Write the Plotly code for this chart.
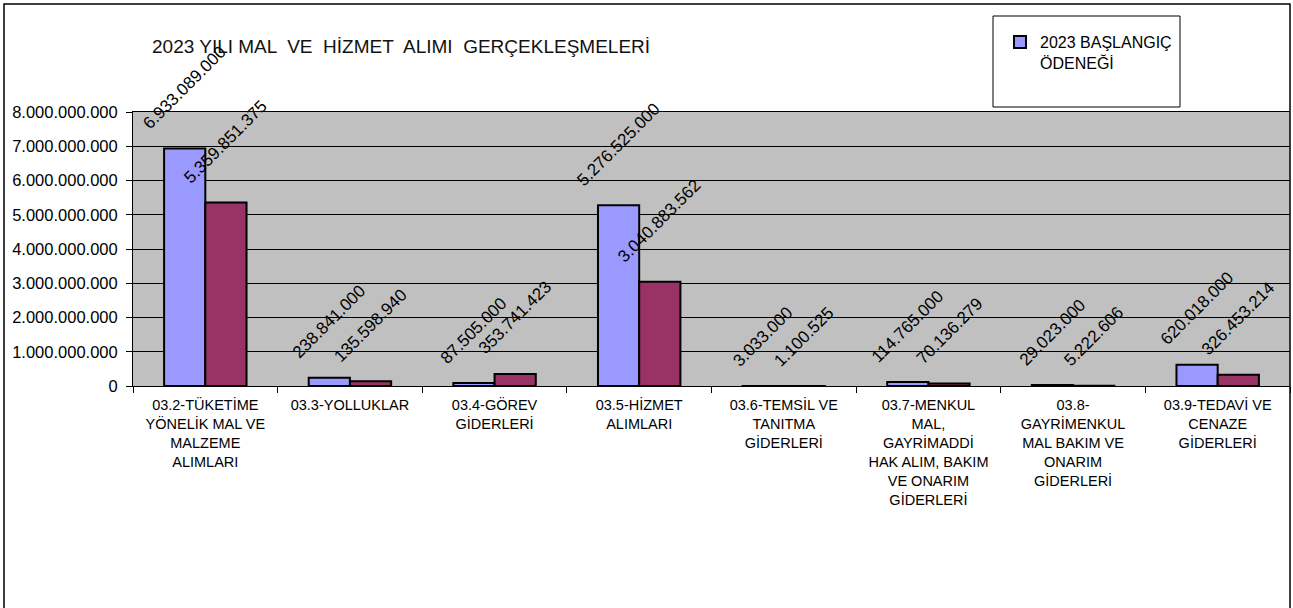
import plotly.graph_objects as go

categories = [
    "03.2-TÜKETİME YÖNELİK MAL VE MALZEME ALIMLARI",
    "03.3-YOLLUKLAR",
    "03.4-GÖREV GİDERLERİ",
    "03.5-HİZMET ALIMLARI",
    "03.6-TEMSİL VE TANITMA GİDERLERİ",
    "03.7-MENKUL MAL, GAYRİMADDİ HAK ALIM, BAKIM VE ONARIM GİDERLERİ",
    "03.8-GAYRİMENKUL MAL BAKIM VE ONARIM GİDERLERİ",
    "03.9-TEDAVİ VE CENAZE GİDERLERİ",
]
tick_labels = [
    "03.2-TÜKETİME<br>YÖNELİK MAL VE<br>MALZEME<br>ALIMLARI",
    "03.3-YOLLUKLAR",
    "03.4-GÖREV<br>GİDERLERİ",
    "03.5-HİZMET<br>ALIMLARI",
    "03.6-TEMSİL VE<br>TANITMA<br>GİDERLERİ",
    "03.7-MENKUL<br>MAL,<br>GAYRİMADDİ<br>HAK ALIM, BAKIM<br>VE ONARIM<br>GİDERLERİ",
    "03.8-<br>GAYRİMENKUL<br>MAL BAKIM VE<br>ONARIM<br>GİDERLERİ",
    "03.9-TEDAVİ VE<br>CENAZE<br>GİDERLERİ",
]
baslangic = [6933089000, 238841000, 87505000, 5276525000, 3033000, 114765000, 29023000, 620018000]
gerceklesme = [5359851375, 135598940, 353741423, 3040883562, 1100525, 70136279, 5222606, 326453214]
y_ticks = [0, 1e9, 2e9, 3e9, 4e9, 5e9, 6e9, 7e9, 8e9]

series_names = ["2023 BAŞLANGIÇ<br>ÖDENEĞİ", "2023 GERÇEKLEŞME"]
title_text = "2023 YILI MAL  VE  HİZMET  ALIMI  GERÇEKLEŞMELERİ"

W, H = 1293, 608
L, R, T, B = 133, 1290, 112, 386
FONT = "Liberation Sans, Arial, sans-serif"


def px(x):
    return (x - L) / (R - L)


def py(y):
    return (B - y) / (B - T)


def fmt(v):
    return f"{v:,}".replace(",", ".")


fig = go.Figure()
fig.add_trace(go.Bar(
    x=categories, y=baslangic, name=series_names[0],
    marker=dict(color="#9999FF", line=dict(color="black", width=2)),
))
fig.add_trace(go.Bar(
    x=categories, y=gerceklesme, name=series_names[1], showlegend=False,
    marker=dict(color="#993366", line=dict(color="black", width=2)),
))

group_px = (R - L) / len(categories)
bargap = 0.43
off = group_px * (1 - bargap) / 4
annotations = []
for vals, sh in ((baslangic, -off), (gerceklesme, off)):
    for c, v in zip(categories, vals):
        annotations.append(dict(
            x=c, y=v, xref="x", yref="y", text=fmt(v), showarrow=False,
            textangle=-45, xanchor="center", yanchor="bottom",
            xshift=sh, yshift=13,
            font=dict(family=FONT, size=17, color="black"),
        ))

shapes = [
    dict(type="rect", xref="paper", yref="paper",
         x0=px(4), x1=px(1290), y0=py(614), y1=py(4),
         line=dict(color="black", width=1.5), fillcolor="rgba(0,0,0,0)", layer="above"),
    dict(type="rect", xref="paper", yref="paper",
         x0=px(993), x1=px(1180), y0=py(107), y1=py(16),
         line=dict(color="black", width=1), fillcolor="rgba(0,0,0,0)", layer="above"),
]

fig.update_layout(
    width=W, height=H,
    margin=dict(l=L, r=W - R, t=T, b=H - B, pad=0),
    paper_bgcolor="white", plot_bgcolor="#C0C0C0",
    barmode="group", bargap=bargap, bargroupgap=0,
    separators=",.",
    font=dict(family=FONT, size=15, color="black"),
    title=dict(text=title_text, xref="container", yref="container",
               x=152 / W, xanchor="left", y=1 - 46 / H, yanchor="middle",
               font=dict(family=FONT, size=19, color="#111")),
    showlegend=True,
    legend=dict(x=px(1000), y=py(25), xanchor="left", yanchor="top",
                bgcolor="rgba(0,0,0,0)", valign="top",
                font=dict(family=FONT, size=16, color="black"),
                itemwidth=30, tracegroupgap=0),
    annotations=annotations,
    shapes=shapes,
    xaxis=dict(
        type="category", tickmode="array", tickvals=categories, ticktext=tick_labels,
        tickson="boundaries", ticks="outside", ticklen=6, tickcolor="black", tickwidth=1,
        showline=True, linecolor="black", linewidth=1, mirror=True, showgrid=False,
        tickfont=dict(family=FONT, size=14.5, color="black"), tickangle=0,
        ticklabelstandoff=6,
    ),
    yaxis=dict(
        range=[0, 8e9], tickmode="array", tickvals=y_ticks, tickformat=",d",
        ticks="outside", ticklen=6, tickcolor="black", tickwidth=1,
        showline=True, linecolor="black", linewidth=1,
        showgrid=True, gridcolor="black", gridwidth=1, zeroline=False,
        tickfont=dict(family=FONT, size=16.5, color="black"),
        ticklabelstandoff=5,
    ),
)

fig.write_html("out.html", config={"displayModeBar": False},
               post_script="document.body.style.margin='0';")
